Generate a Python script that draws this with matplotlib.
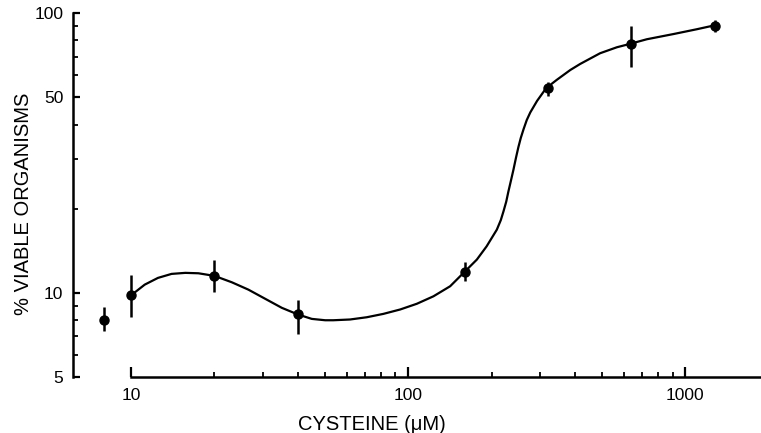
import matplotlib.pyplot as plt
from matplotlib.ticker import LogLocator, NullFormatter, FixedLocator

plt.rcParams['font.family'] = ['Liberation Sans', 'DejaVu Sans']

# measured points (cysteine uM, % viable) with error bar limits
conc = [8, 10, 20, 40, 160, 320, 640, 1280]
viable = [8.0, 9.8, 11.5, 8.37, 11.9, 54.0, 77.5, 90.3]
err_lo = [7.33, 8.2, 10.1, 7.15, 11.0, 50.4, 64.4, 85.9]
err_hi = [8.87, 11.6, 13.1, 9.4, 12.9, 57.0, 90.1, 94.6]

# hand drawn fitted curve
curve_x = [10, 11.2, 12.5, 14.0, 15.7, 17.5, 20, 23.1, 26.5, 30.5, 35.0, 40,
           44.9, 50.2, 53.7, 61.7, 70.9, 81.4, 93.6, 107.5, 123.4, 141.8, 160,
           177, 192, 209, 216, 221, 226, 230, 235, 240, 245, 250, 255, 261, 268, 276, 292, 315, 344, 385,
           418, 493, 567, 625, 727, 908, 1102, 1260]
curve_y = [9.8, 10.7, 11.31, 11.69, 11.79, 11.75, 11.5, 10.91, 10.27, 9.52, 8.84, 8.37,
           8.07, 7.98, 7.98, 8.03, 8.18, 8.41, 8.72, 9.14, 9.72, 10.56, 11.9,
           13.15, 14.67, 16.83, 18.2, 19.6, 21.2, 23.0, 25.2, 27.6, 30.4, 33.2, 35.8, 38.5, 41.5, 44.2, 48.6, 54.0, 57.8, 62.7,
           65.9, 71.96, 75.6, 77.5, 80.75, 84.3, 87.7, 90.3]

fig = plt.figure(figsize=(7.61, 4.33), dpi=100)
ax = fig.add_axes([0.0959, 0.1293, 0.9031, 0.84])

ax.plot(curve_x, curve_y, color='black', lw=1.6, solid_capstyle='round', solid_joinstyle='round')
yerr = [[v - lo for v, lo in zip(viable, err_lo)], [hi - v for v, hi in zip(viable, err_hi)]]
ax.errorbar(conc, viable, yerr=yerr, fmt='o', color='black', ms=6.5, elinewidth=1.8, capsize=0)

ax.set_xscale('log')
ax.set_yscale('log')
ax.set_xlim(6.17, 1866)
ax.set_ylim(5, 100)

for s in ['top', 'right']:
    ax.spines[s].set_visible(False)
ax.spines['left'].set_linewidth(1.8)
ax.spines['bottom'].set_linewidth(1.8)
ax.spines['bottom'].set_bounds(10, 1866)

ax.xaxis.set_major_locator(FixedLocator([10, 100, 1000]))
ax.xaxis.set_minor_locator(FixedLocator([20, 30, 40, 50, 60, 70, 80, 90,
                                         200, 300, 400, 500, 600, 700, 800, 900]))
ax.xaxis.set_minor_formatter(NullFormatter())
ax.set_xticklabels(['10', '100', '1000'])
ax.yaxis.set_major_locator(FixedLocator([5, 10, 50, 100]))
ax.yaxis.set_minor_locator(LogLocator(base=10, subs=range(2, 10)))
ax.yaxis.set_minor_formatter(NullFormatter())
ax.set_yticklabels(['5', '10', '50', '100'])

ax.tick_params(axis='x', which='major', direction='in', length=7, width=1.6, pad=8, labelsize=12.5)
ax.tick_params(axis='x', which='minor', direction='in', length=3.5, width=1.3)
ax.tick_params(axis='y', which='major', direction='in', length=5, width=1.6, pad=7, labelsize=12.5)
ax.tick_params(axis='y', which='minor', direction='in', length=3.5, width=1.3)

ax.set_xlabel('CYSTEINE (\u03bcM)', fontsize=14.5)
ax.xaxis.set_label_coords(0.435, -0.105)
ax.set_ylabel('% VIABLE ORGANISMS', fontsize=14.5)
ax.yaxis.set_label_coords(-0.058, 0.475)

fig.savefig('out.png', dpi=100)
